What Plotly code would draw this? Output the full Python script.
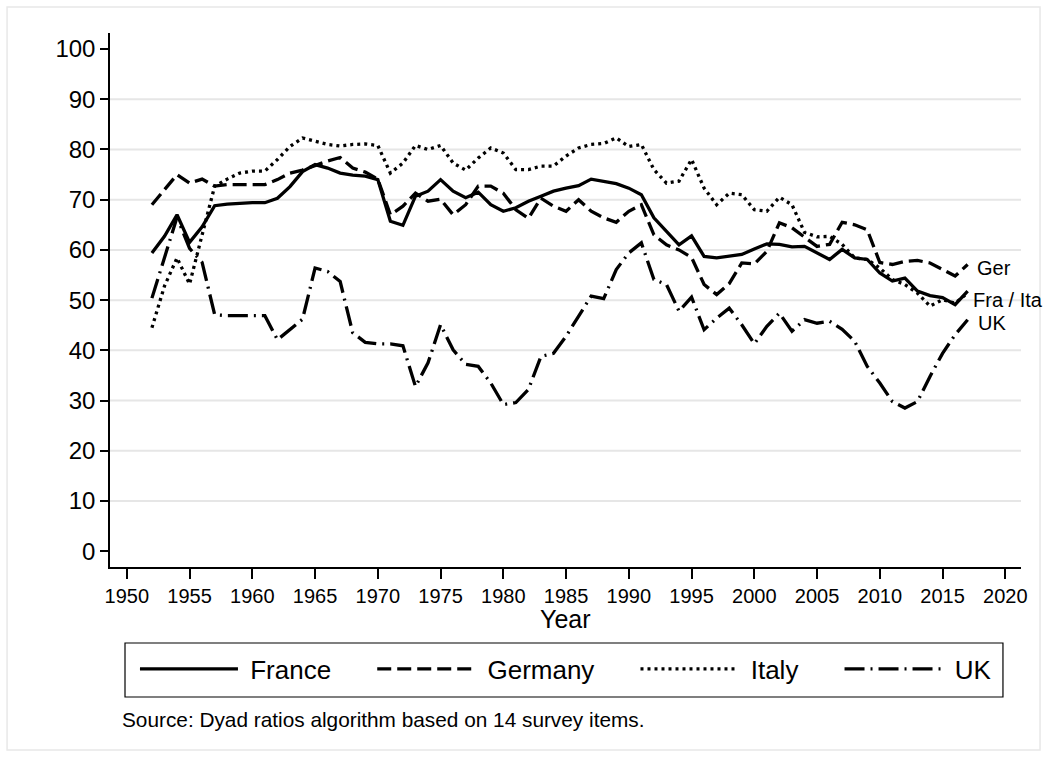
import plotly.graph_objects as go

years = list(range(1952, 2018))

france = [59.4, 62.7, 67.0, 61.5, 64.6, 68.8, 69.1, 69.3, 69.4, 69.4,
          70.3, 72.6, 75.6, 77.0, 76.3, 75.3, 74.9, 74.7, 74.0, 65.7,
          64.9, 70.7, 71.7, 74.0, 71.7, 70.4, 71.5, 69.0, 67.7, 68.4,
          69.7, 70.7, 71.7, 72.3, 72.8, 74.1, 73.7, 73.2, 72.3, 71.0,
          66.4, 63.7, 61.0, 62.8, 58.7, 58.4, 58.7, 59.1, 60.2, 61.2,
          61.1, 60.6, 60.7, 59.4, 58.1, 60.1, 58.4, 58.1, 55.4, 53.8,
          54.4, 51.8, 50.9, 50.5, 49.1, 51.8]

germany = [69.0, 72.0, 75.0, 73.3, 74.1, 72.7, 73.0, 73.0, 73.0, 73.0,
           74.0, 75.3, 75.9, 76.8, 77.7, 78.4, 76.3, 75.5, 74.1, 67.0,
           68.7, 71.3, 69.7, 70.1, 67.0, 69.0, 72.7, 72.7, 71.3, 68.0,
           66.3, 70.3, 68.7, 67.7, 70.0, 67.7, 66.4, 65.5, 67.7, 69.0,
           63.0, 61.0, 60.0, 58.5, 53.1, 51.1, 53.3, 57.4, 57.2, 59.7,
           65.4, 64.4, 62.5, 60.7, 61.1, 65.5, 65.0, 64.0, 57.5, 57.1,
           57.7, 57.9, 57.4, 56.1, 54.8, 57.1]

italy = [44.5, 52.8, 58.4, 53.2, 63.0, 72.7, 74.1, 75.3, 75.7, 75.7,
         78.0, 80.6, 82.3, 81.6, 81.0, 80.7, 81.0, 81.1, 80.8, 75.3,
         77.3, 80.8, 80.0, 80.8, 77.3, 75.9, 78.3, 80.3, 79.3, 76.0,
         76.0, 76.7, 76.7, 78.7, 80.3, 81.0, 81.2, 82.3, 80.6, 81.0,
         76.0, 73.3, 73.7, 78.0, 72.3, 69.0, 71.3, 71.0, 68.0, 67.7,
         70.5, 69.0, 63.5, 62.6, 62.7, 61.1, 58.4, 58.1, 56.4, 54.1,
         53.1, 51.4, 48.8, 50.1, 49.4, 51.4]

uk = [50.4, 58.6, 66.5, 60.3, 57.5, 47.1, 46.9, 46.9, 46.9, 46.9,
      42.1, 44.1, 46.2, 56.4, 55.7, 53.7, 43.5, 41.6, 41.3, 41.3,
      40.9, 32.8, 37.5, 45.1, 40.1, 37.2, 36.8, 33.5, 29.2, 29.6,
      32.2, 38.8, 39.4, 42.8, 46.8, 50.8, 50.3, 56.1, 59.4, 61.4,
      54.1, 53.1, 47.8, 50.6, 44.1, 46.4, 48.4, 45.1, 41.3, 44.8,
      47.4, 43.8, 46.1, 45.4, 45.8, 44.2, 41.8, 36.8, 33.5, 29.8,
      28.5, 29.8, 34.8, 39.4, 43.1, 46.1]

series_names = ["France", "Germany", "Italy", "UK"]
y_ticks = list(range(0, 101, 10))
x_ticks = list(range(1950, 2021, 5))
grid_vals = list(range(10, 91, 10))

end_labels = ["Ger", "Fra / Ita", "UK"]
end_label_x = [2017.6, 2017.3, 2017.65]
end_label_y = [56.3, 50.0, 45.5]

FONT = "Arial, Liberation Sans, sans-serif"
NB = "\u00a0"

dashes = ["solid", "14px,6px", "3px,4px", "20px,6px,2px,6px"]
trail = [5, 5, 5, 0]

fig = go.Figure()
for name, vals, dash, tr in zip(series_names, [france, germany, italy, uk], dashes, trail):
    fig.add_trace(go.Scatter(
        x=years, y=vals, mode="lines", name=NB + name + NB * tr,
        line=dict(color="black", width=3.3, dash=dash),
    ))

shapes = []
for g in grid_vals:
    shapes.append(dict(type="line", xref="paper", yref="y", x0=0, x1=1,
                       y0=g, y1=g, line=dict(color="#e6e6e6", width=2),
                       layer="below"))
# outer frame
shapes.append(dict(type="rect", xref="paper", yref="paper",
                   x0=-0.113, x1=1.0209, y0=-0.3427, y1=1.0487,
                   line=dict(color="#e8e8e8", width=1.5)))
# legend box
shapes.append(dict(type="rect", xref="paper", yref="paper",
                   x0=0.01647, x1=0.9802, y0=-0.2434, y1=-0.1423,
                   line=dict(color="black", width=1.2)))

annotations = []
for t, ax, ay in zip(end_labels, end_label_x, end_label_y):
    annotations.append(dict(x=ax, y=ay, xref="x", yref="y", text=t,
                            showarrow=False, xanchor="left", yanchor="middle",
                            font=dict(family=FONT, size=20, color="black")))
annotations.append(dict(x=0.5, y=-0.097, xref="paper", yref="paper",
                        text="Year", showarrow=False, xanchor="center",
                        yanchor="middle",
                        font=dict(family=FONT, size=25, color="black")))
annotations.append(dict(x=0.011, y=-0.2865, xref="paper", yref="paper",
                        text="Source: Dyad ratios algorithm based on 14 survey items.",
                        showarrow=False, xanchor="left", yanchor="middle",
                        font=dict(family=FONT, size=20.8, color="black")))

fig.update_layout(
    width=1047, height=757,
    margin=dict(l=110, r=26, t=33, b=190),
    paper_bgcolor="white", plot_bgcolor="white",
    font=dict(family=FONT, color="black"),
    shapes=shapes, annotations=annotations,
    showlegend=True,
    legend=dict(orientation="h", x=0.0274, xanchor="left", y=-0.147,
                yanchor="top", borderwidth=0, bgcolor="rgba(0,0,0,0)",
                font=dict(family=FONT, size=26, color="black"),
                itemwidth=98, tracegroupgap=0),
    xaxis=dict(range=[1948.66, 2021.25], tickvals=x_ticks,
               showgrid=False, zeroline=False, showline=True,
               linecolor="black", linewidth=1.5, ticks="outside",
               ticklen=10, tickwidth=1.5, tickcolor="black",
               tickfont=dict(family=FONT, size=20, color="black")),
    yaxis=dict(range=[-3.15, 103.2], tickvals=y_ticks,
               showgrid=False, zeroline=False, showline=True,
               linecolor="black", linewidth=1.5, ticks="outside",
               ticklen=8, tickwidth=1.5, tickcolor="black",
               tickfont=dict(family=FONT, size=24, color="black")),
)

fig.write_html("out.html", config={"displayModeBar": False},
               post_script="document.body.style.margin='0';")
